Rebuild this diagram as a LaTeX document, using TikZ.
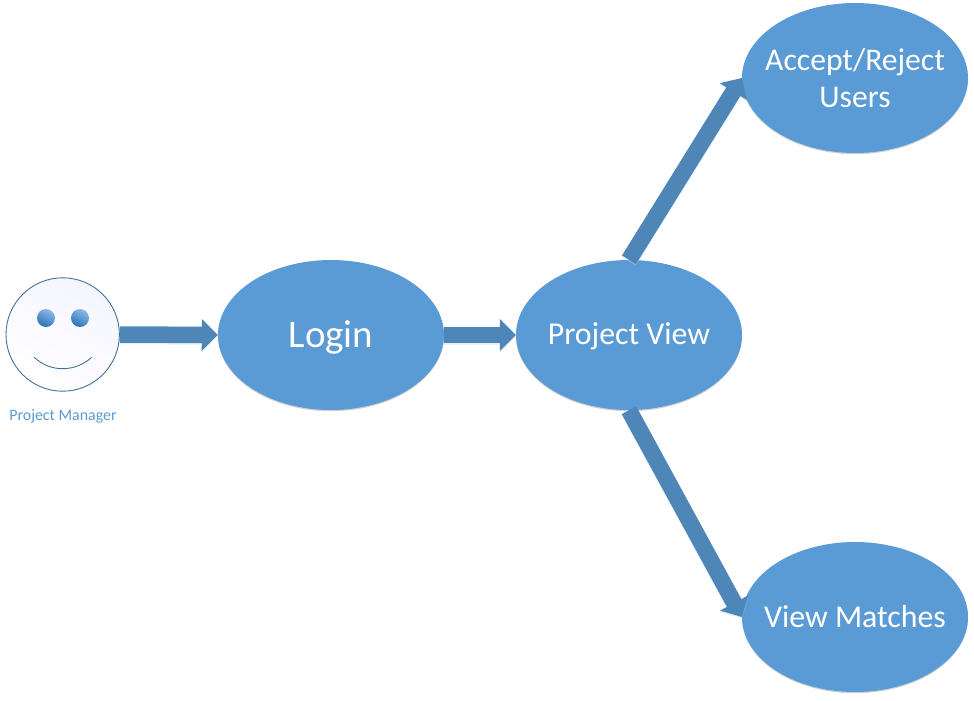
\documentclass[tikz,border=0pt]{standalone}
\usepackage{fontspec}
\setmainfont{Carlito}
\usetikzlibrary{shapes.geometric,arrows.meta,shadows}
\definecolor{ellblue}{HTML}{5B9BD5}
\definecolor{arrblue}{HTML}{4E86B8}
\definecolor{faceline}{HTML}{41719C}
\definecolor{glow}{HTML}{BDD7EE}
\definecolor{eyedark}{HTML}{2F7FCC}
\definecolor{eyelight}{HTML}{8FBBE6}
\tikzset{
  oval/.style={ellipse,minimum width=226pt,minimum height=150pt,inner sep=-40pt,fill=ellblue,text=white,align=center,
    general shadow={shadow xshift=0pt,shadow yshift=-1.2pt,fill=black!45,fill opacity=.4}},
  flowglow/.style={line width=16.5pt,draw=glow,opacity=.4,-{Triangle[length=16pt,width=31pt]},transform canvas={yshift=-1.5pt}},
  flow/.style={line width=16.5pt,draw=arrblue,-{Triangle[length=16pt,width=31pt]}},
  eye/.style={circle,minimum size=18pt,inner sep=0pt,draw=none,top color=eyelight,middle color=eyedark,bottom color=eyedark!90!black,shading angle=-25},
}
\begin{document}
\begin{tikzpicture}[x=1pt,y=-1pt]
\useasboundingbox (0,0) rectangle (974,701);
\node[circle,minimum size=113.4pt,inner sep=0pt,draw=faceline,line width=.9pt,top color=blue!4,bottom color=white,shading angle=-30] (face) at (62.7,334.5) {};
\node[eye] (eyeL) at (46,318) {};
\node[eye] (eyeR) at (80,318) {};
\draw[faceline,line width=.9pt] (34.3,357.3) .. controls (50,372.5) and (75,372.5) .. (91.7,357.3);
\node[text=ellblue,font=\fontsize{15.9}{18}\selectfont,inner sep=0pt] (pm) at (63,416) {Project Manager};
\node[oval,font=\fontsize{39}{44}\selectfont] (login) at (331,335) {\raisebox{-2pt}[\height][\depth]{Login}};
\node[oval,font=\fontsize{31.8}{37}\selectfont] (pv) at (629,335) {\raisebox{-1pt}[\height][\depth]{Project View}};
\node[oval,font=\fontsize{31.6}{37}\selectfont] (accept) at (855,78) {Accept/Reject\\Users};
\node[oval,font=\fontsize{31.8}{37}\selectfont] (vm) at (855,617) {View Matches};
\foreach \a/\b in {face.east/login.west,login.east/pv.west,pv.north/accept.west,pv.south/vm.west}{
  \draw[flowglow] (\a) -- (\b);
  \draw[flow] (\a) -- (\b);
}
\end{tikzpicture}
\end{document}
